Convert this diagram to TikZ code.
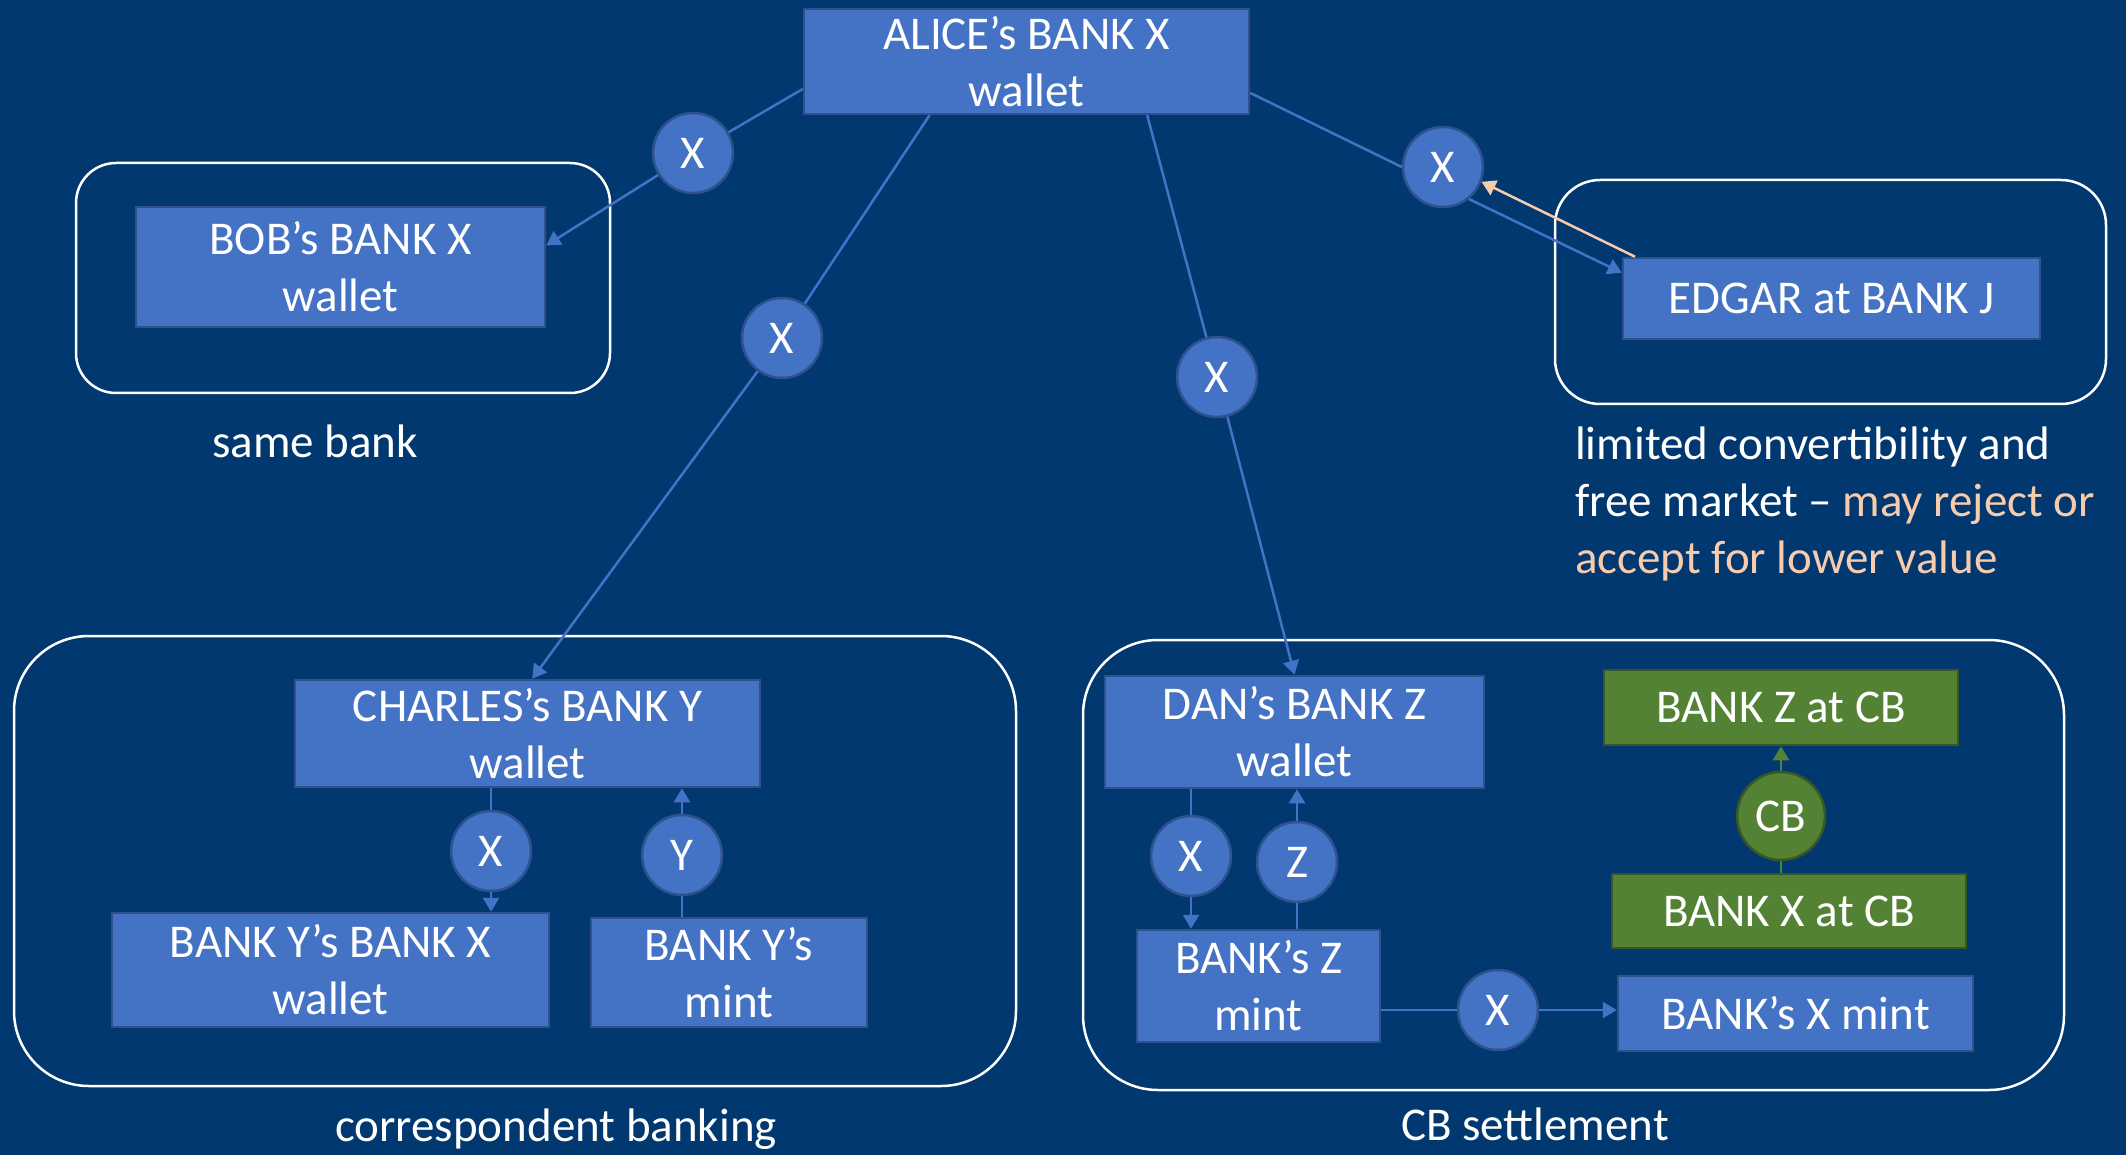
\documentclass[tikz,border=0pt]{standalone}
\usepackage{fontspec}
\setmainfont{Carlito}
\usetikzlibrary{arrows.meta}
\definecolor{bg}{RGB}{1,56,112}
\definecolor{boxblue}{RGB}{68,114,196}
\definecolor{boxedge}{RGB}{47,82,143}
\definecolor{boxgreen}{RGB}{84,130,53}
\definecolor{greenedge}{RGB}{56,87,35}
\definecolor{peach}{RGB}{248,203,173}
\begin{document}
\begin{tikzpicture}[x=1pt,y=-1pt,
  font=\fontsize{47}{57}\selectfont,
  bbox/.style={draw=boxedge, fill=boxblue, line width=2.5pt, align=center, inner sep=0pt, text=white},
  gbox/.style={draw=greenedge, fill=boxgreen, line width=2.5pt, align=center, inner sep=0pt, text=white},
  coin/.style={circle, draw=boxedge, fill=boxblue, line width=2.5pt, minimum size=80pt, inner sep=0pt, text=white},
  gcoin/.style={coin, draw=greenedge, fill=boxgreen, minimum size=88pt},
  frame/.style={draw=white, line width=2.5pt},
  link/.style={draw=boxblue, line width=2.5pt},
  arr/.style={link, -{Triangle[length=14pt,width=16pt]}},
  glink/.style={draw=boxgreen, line width=2.5pt},
  garr/.style={glink, -{Triangle[length=14pt,width=16pt]}},
  oarr/.style={draw=peach, line width=2.5pt, -{Triangle[length=14pt,width=16pt]}},
  caption/.style={text=white, inner sep=0pt}
]
\fill[bg] (0,0) rectangle (2126,1155);
\useasboundingbox (0,0) rectangle (2126,1155);

% group frames
\draw[frame, rounded corners=40pt] (76,163) rectangle (610,393);
\draw[frame, rounded corners=75pt] (14,636) rectangle (1016,1086);
\draw[frame, rounded corners=75pt] (1083,640) rectangle (2064,1090);
\draw[frame, rounded corners=45pt] (1555,180) rectangle (2106,404);

% boxes
\node[bbox, minimum width=445pt, minimum height=105pt] (alice) at (1026.5,61.5) {ALICE’s BANK X\\wallet};
\node[bbox, minimum width=409pt, minimum height=120pt] (bob) at (340.5,267) {BOB’s BANK X\\wallet};
\node[bbox, minimum width=465pt, minimum height=107pt] (charles) at (527.5,733.5) {CHARLES’s BANK Y\\wallet};
\node[bbox, minimum width=437pt, minimum height=114pt] (bybx) at (330.5,970) {BANK Y’s BANK X\\wallet};
\node[bbox, minimum width=276pt, minimum height=109pt] (bym) at (729,972.5) {BANK Y’s\\mint};
\node[bbox, minimum width=379pt, minimum height=112pt] (dan) at (1294.5,732) {DAN’s BANK Z\\wallet};
\node[bbox, minimum width=243pt, minimum height=112pt] (bzm) at (1258.5,986) {BANK’s Z\\mint};
\node[bbox, minimum width=355pt, minimum height=75pt] (bxm) at (1795.5,1013.5) {BANK’s X mint};
\node[gbox, minimum width=354pt, minimum height=75pt] (bzcb) at (1781,707.5) {BANK Z at CB};
\node[gbox, minimum width=354pt, minimum height=74pt] (bxcb) at (1789,911) {BANK X at CB};
\node[bbox, minimum width=417pt, minimum height=81pt] (edgar) at (1831.5,298.5) {EDGAR at BANK J};

% coins
\node[coin] (x1) at (693,153) {X};
\node[coin] (x2) at (782,338) {X};
\node[coin] (x4) at (1217,377) {X};
\node[coin] (x5) at (1443,167) {X};
\node[coin] (x3) at (491,851) {X};
\node[coin] (yc) at (682,855) {Y};
\node[coin] (xz) at (1191,856) {X};
\node[coin] (zc) at (1297,862) {Z};
\node[coin] (xb) at (1498,1010) {X};
\node[gcoin] (cb) at (1781,816) {CB};

% connectors
\draw[link] (alice.187.5) -- (x1);
\draw[arr] (x1) -- (bob.6);
\draw[link] (alice.209.6) -- (x2);
\draw[arr] (x2) -- (charles.85);
\draw[link] (alice.-24.4) -- (x4);
\draw[arr] (x4) -- (dan.north);
\draw[link] (alice.-8.2) -- (x5.west);
\draw[arr] (x5.-51) -- (edgar.173);
\draw[oarr] (edgar.168) -- (x5.-21);

\draw[link] (charles.south -| x3.center) -- (x3.north);
\draw[arr] (x3.south) -- (bybx.north -| x3.center);
\draw[link] (bym.north -| yc.center) -- (yc.south);
\draw[arr] (yc.north) -- (charles.south -| yc.center);

\draw[link] (dan.south -| xz.center) -- (xz.north);
\draw[arr] (xz.south) -- (bzm.north -| xz.center);
\draw[link] (bzm.north -| zc.center) -- (zc.south);
\draw[arr] (zc.north) -- (dan.south -| zc.center);
\draw[link] (bzm.east |- xb.center) -- (xb.west);
\draw[arr] (xb.east) -- (bxm.west |- xb.center);
\draw[glink] (bxcb.north -| cb.center) -- (cb.south);
\draw[garr] (cb.north) -- (bzcb.south -| cb.center);

% captions
\node[caption] (cap1) at (315,441) {same bank};
\node[caption] (cap2) at (556,1129) {correspondent banking};
\node[caption] (cap3) at (1535,1124) {CB settlement};
\node[caption, anchor=north west, align=left] (cap4) at (1575,427) {limited convertibility and\\free market – {\color{peach}may reject or}\\{\color{peach}accept for lower value}};
\end{tikzpicture}
\end{document}
